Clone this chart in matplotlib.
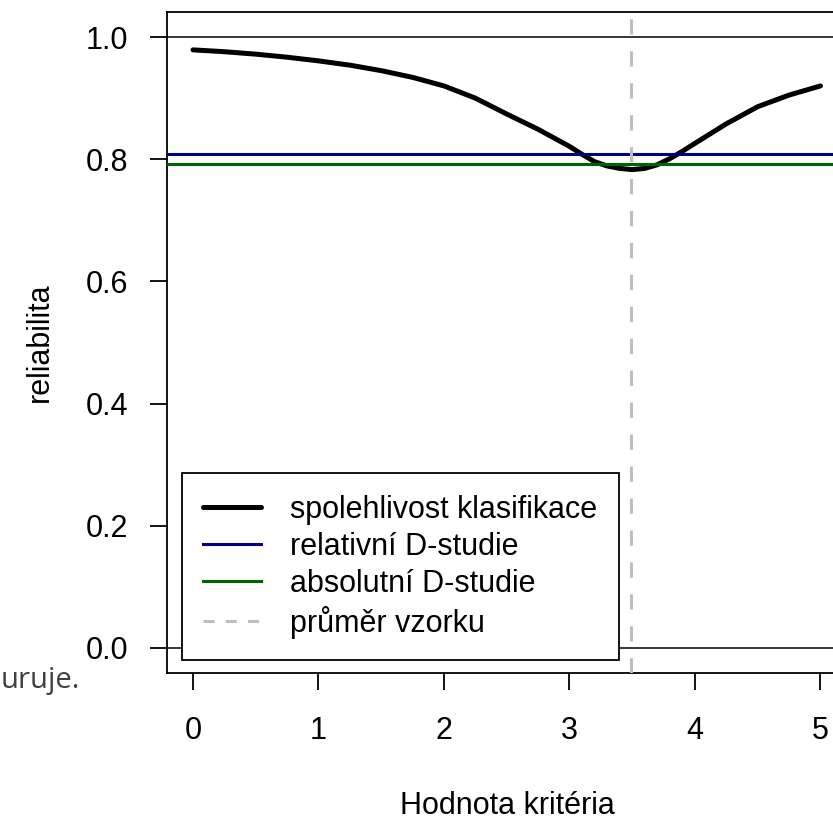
import matplotlib
matplotlib.use('Agg')
import matplotlib.pyplot as plt
from matplotlib.lines import Line2D

# spolehlivost klasifikace podle hodnoty kritéria
kriterium = [0, 0.25, 0.5, 0.75, 1.0, 1.25, 1.5, 1.75, 2.0, 2.25, 2.5, 2.75,
             3.0, 3.1, 3.2, 3.3, 3.4, 3.5, 3.6, 3.7, 3.8, 3.9, 4.0, 4.25,
             4.5, 4.75, 5.0]
spolehlivost = [0.979, 0.976, 0.972, 0.967, 0.961, 0.954, 0.945, 0.934, 0.920,
                0.900, 0.874, 0.849, 0.821, 0.808, 0.796, 0.789, 0.785, 0.783,
                0.785, 0.791, 0.801, 0.813, 0.826, 0.858, 0.886, 0.905, 0.920]
rel_d = 0.808      # relativní D-studie
abs_d = 0.792      # absolutní D-studie
prumer = 3.49      # průměr vzorku
x_ticks = [0, 1, 2, 3, 4, 5]
y_ticks = [0.0, 0.2, 0.4, 0.6, 0.8, 1.0]
popisky = ['spolehlivost klasifikace', 'relativní D-studie',
           'absolutní D-studie', 'průměr vzorku']

plt.rcParams['font.family'] = ['Liberation Sans', 'DejaVu Sans']
plt.rcParams['lines.scale_dashes'] = False

fig = plt.figure(figsize=(8.33, 8.21), dpi=100)
W, H = 833, 821
ax = fig.add_axes([167 / W, 1 - 673 / H, 1 - 167 / W, (673 - 12) / H])

dash = (0, (11, 12))
ax.plot(kriterium, spolehlivost, color='black', lw=3.6, solid_capstyle='round',
        solid_joinstyle='round', zorder=3)
ax.axhline(1.0, color='black', lw=1.1, zorder=2)
ax.axhline(0.0, color='black', lw=1.1, zorder=2)
ax.axhline(rel_d, color='#00008B', lw=2.2, zorder=4)
ax.axhline(abs_d, color='#006400', lw=2.2, zorder=4)
ax.axvline(prumer, color='#BEBEBE', lw=2.2, linestyle=dash, zorder=5)

ax.set_xlim(-0.207, 5.10)
ax.set_ylim(-0.041, 1.041)
ax.set_xticks(x_ticks)
ax.set_yticks(y_ticks)
ax.set_yticklabels(['%.1f' % v for v in y_ticks])
ax.tick_params(axis='both', labelsize=22, length=12, width=1.3, direction='out')
ax.tick_params(axis='y', pad=16)
ax.tick_params(axis='x', pad=19)
for s in ['left', 'top', 'bottom']:
    ax.spines[s].set_linewidth(1.3)
ax.spines['right'].set_visible(False)

ax.set_xlabel('Hodnota kritéria', fontsize=22)
ax.xaxis.set_label_coords((507 - 167) / 666, (673 - 806) / 661)
ax.xaxis.label.set_va('center')
ax.set_ylabel('reliabilita', fontsize=22)
ax.yaxis.set_label_coords((40 - 167) / 666, 0.5)
ax.yaxis.label.set_va('center')

handles = [Line2D([], [], color='black', lw=3.6, solid_capstyle='round'),
           Line2D([], [], color='#00008B', lw=2.2),
           Line2D([], [], color='#006400', lw=2.2),
           Line2D([], [], color='#BEBEBE', lw=2.2, linestyle=(0, (8, 8)))]
leg = ax.legend(handles, popisky, loc='lower left',
                bbox_to_anchor=((182 - 167) / 666, (673 - 660) / 661),
                borderaxespad=0, fontsize=22, fancybox=False, framealpha=1,
                edgecolor='black', handlelength=1.9, handletextpad=0.95,
                labelspacing=0.23, borderpad=0.7)
leg.get_frame().set_linewidth(1.3)
leg.set_zorder(6)

# zbytek textu z okolního dokumentu
fig.text(0.5 / W, 1 - 688 / H, 'uruje.', family=['Open Sans', 'DejaVu Sans'],
         fontsize=21, color='#404040', va='baseline', ha='left')

fig.savefig('out.png', dpi=100)
